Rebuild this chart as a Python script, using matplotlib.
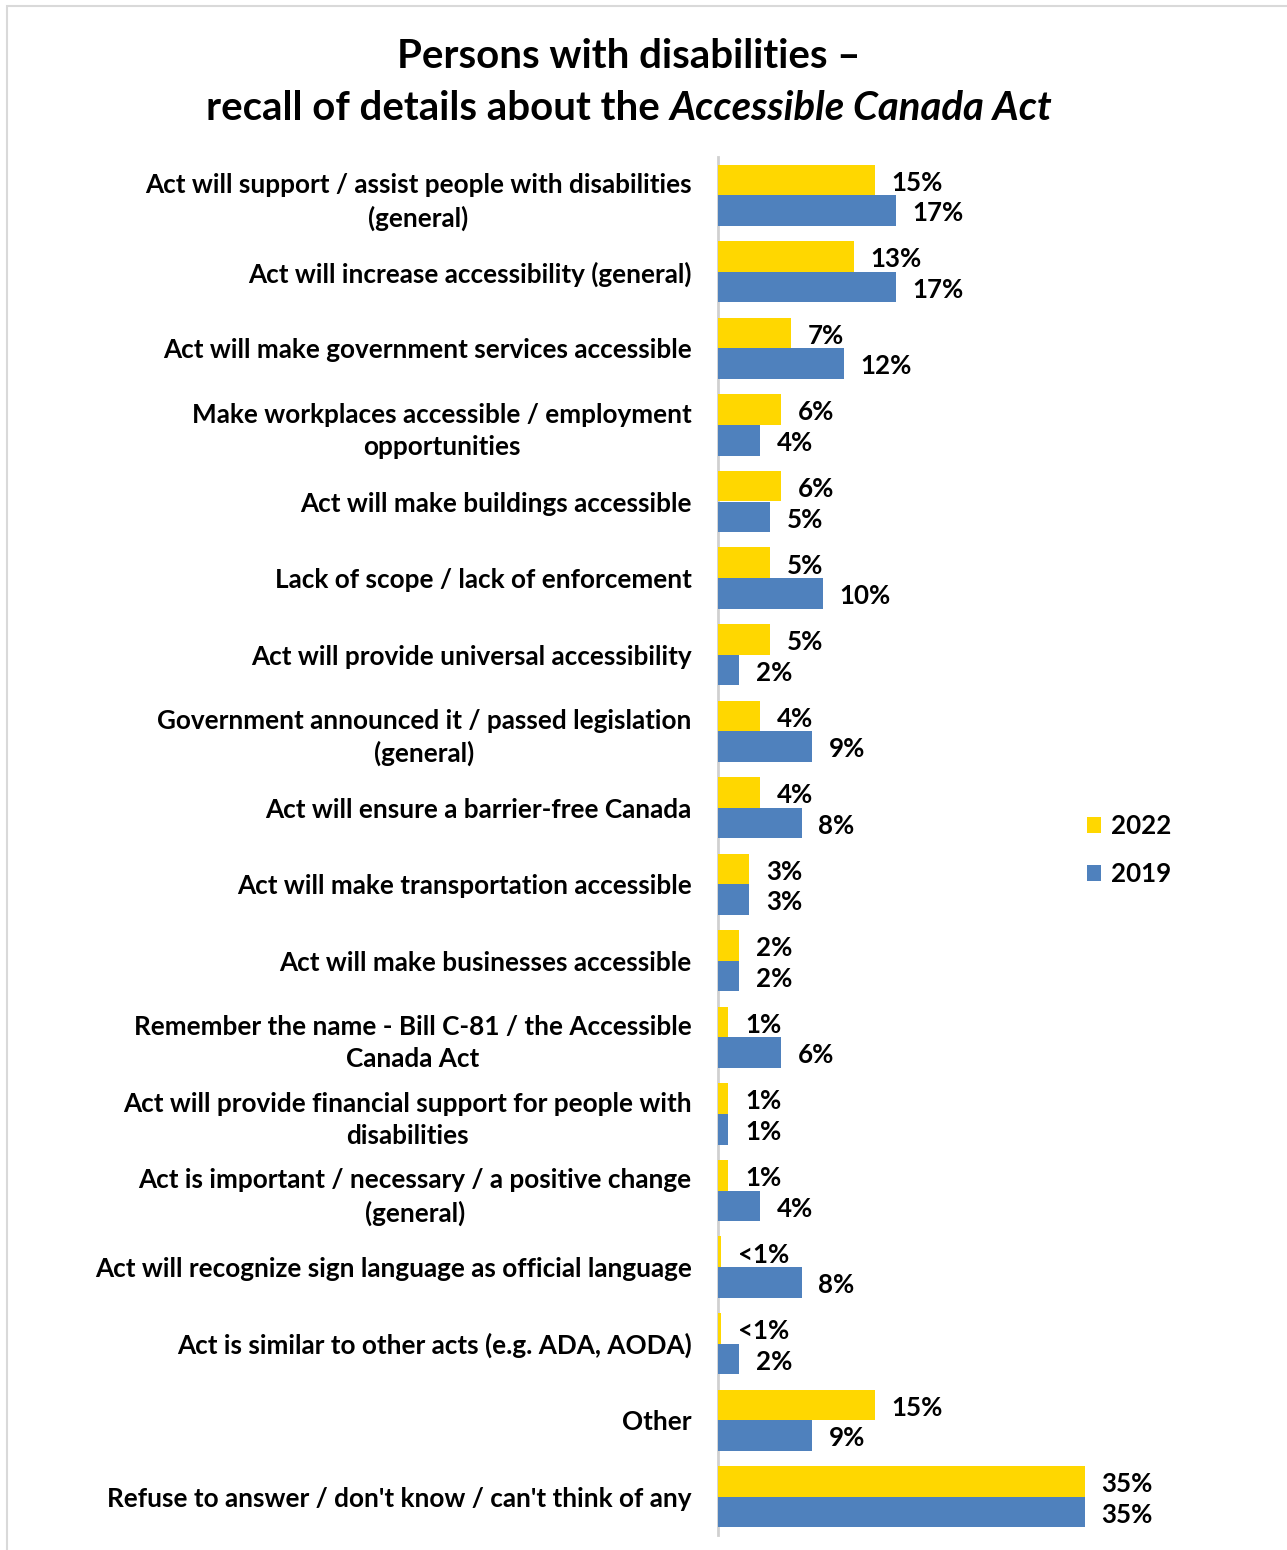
import matplotlib
matplotlib.use("Agg")
import matplotlib.pyplot as plt
from matplotlib.patches import Rectangle
import numpy as np

# Survey responses: recall of details about the Accessible Canada Act
categories = [
    "Act will support / assist people with disabilities\n(general)",
    "Act will increase accessibility (general)",
    "Act will make government services accessible",
    "Make workplaces accessible / employment\nopportunities",
    "Act will make buildings accessible",
    "Lack of scope / lack of enforcement",
    "Act will provide universal accessibility",
    "Government announced it / passed legislation\n(general)",
    "Act will ensure a barrier-free Canada",
    "Act will make transportation accessible",
    "Act will make businesses accessible",
    "Remember the name - Bill C-81 / the Accessible\nCanada Act",
    "Act will provide financial support for people with\ndisabilities",
    "Act is important / necessary / a positive change\n(general)",
    "Act will recognize sign language as official language",
    "Act is similar to other acts (e.g. ADA, AODA)",
    "Other",
    "Refuse to answer / don't know / can't think of any",
]
# values below 1% are shown as "<1%"
values_2022 = [15, 13, 7, 6, 6, 5, 5, 4, 4, 3, 2, 1, 1, 1, 0.3, 0.3, 15, 35]
values_2019 = [17, 17, 12, 4, 5, 10, 2, 9, 8, 3, 2, 6, 1, 4, 8, 2, 9, 35]
series_names = ["2022", "2019"]
series_colors = ["#FFD700", "#4F81BD"]

W, H, DPI = 1287, 1550, 100
plt.rcParams['font.family'] = ['Lato', 'DejaVu Sans']
plt.rcParams['font.weight'] = 'bold'

LABEL_SIZE = 18.8
VALUE_SIZE = 18.6
TITLE_SIZE = 28.9

fig = plt.figure(figsize=(W / DPI, H / DPI), dpi=DPI)


def px_box(x0, y0, x1, y1):
    return [x0 / W, 1 - y1 / H, (x1 - x0) / W, (y1 - y0) / H]


# light frame around the chart area
fig.patches.append(Rectangle((7 / W, -0.05), 1.2, 1 - 6 / H + 0.05,
                             transform=fig.transFigure, fill=False,
                             edgecolor="#D9D9D9", linewidth=1.5))

ax = fig.add_axes(px_box(718, 157, 1137, 1535))
n = len(categories)
y = np.arange(n)
h = 0.4
ax.barh(y - h / 2, values_2022, height=h, color=series_colors[0],
        label=series_names[0], zorder=3)
ax.barh(y + h / 2, values_2019, height=h, color=series_colors[1],
        label=series_names[1], zorder=3)
ax.set_ylim(n - 0.5, -0.5)
ax.set_xlim(0, 40)


def fmt(v):
    return "<1%" if v < 1 else f"{v:.0f}%"


for vals, offs in ((values_2022, -h / 2), (values_2019, h / 2)):
    for i, v in enumerate(vals):
        ax.annotate(fmt(v), xy=(v, i + offs), xytext=(12, -2),
                    textcoords="offset points", ha="left", va="center",
                    fontsize=VALUE_SIZE, fontweight="bold", color="black")

ax.set_yticks(y)
ax.set_yticklabels(categories, fontsize=LABEL_SIZE, fontweight="bold",
                   multialignment="center")
for t in ax.get_yticklabels():
    t.set_linespacing(1.4)
ax.tick_params(axis="y", length=0, pad=19)
ax.set_xticks([])
for s in ("top", "right", "bottom"):
    ax.spines[s].set_visible(False)
ax.spines["left"].set_color("#D0D0D0")
ax.spines["left"].set_linewidth(2)
ax.spines["left"].set_zorder(1)

ax.legend(loc="upper left", bbox_to_anchor=(1064 / W, 1 - 791 / H),
          bbox_transform=fig.transFigure, frameon=False,
          prop={"size": VALUE_SIZE, "weight": "bold"}, handlelength=0.55,
          handleheight=0.55, handletextpad=0.35, labelspacing=0.92)

# two-line title, second line partly italic
fig.text(629 / W, 1 - 56 / H, "Persons with disabilities \u2013",
         ha="center", va="center", fontsize=TITLE_SIZE, fontweight="bold")
renderer = fig.canvas.get_renderer()
t1 = fig.text(0, 1 - 108 / H, "recall of details about the ",
              ha="left", va="center", fontsize=TITLE_SIZE, fontweight="bold")
t2 = fig.text(0, 1 - 108 / H, "Accessible Canada Act",
              ha="left", va="center", fontsize=TITLE_SIZE, fontweight="bold",
              style="italic")
w1 = t1.get_window_extent(renderer).width
w2 = t2.get_window_extent(renderer).width
x0 = 629 - (w1 + w2) / 2
t1.set_x(x0 / W)
t2.set_x((x0 + w1) / W)

fig.savefig("out.png", dpi=DPI)
